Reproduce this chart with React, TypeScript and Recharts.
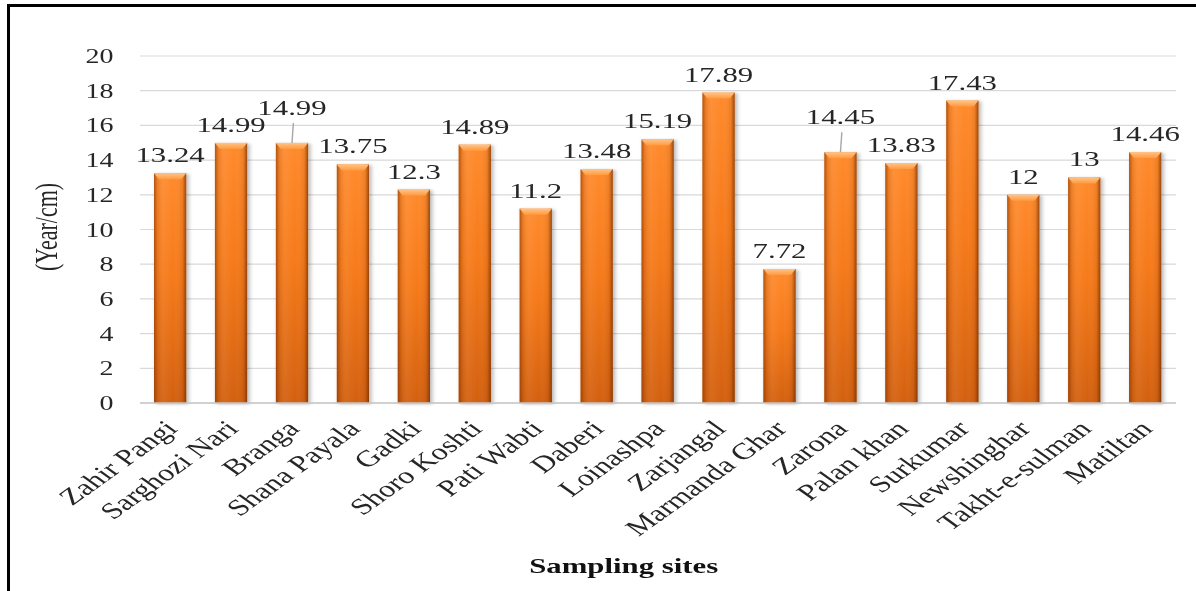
import React from 'react';
import { BarChart, Bar, XAxis, YAxis, CartesianGrid, LabelList, Label } from 'recharts';

// ─── Data ─────────────────────────────────────────────────────────────────────
const SITES = [
  'Zahir Pangi', 'Sarghozi Nari', 'Branga', 'Shana Payala', 'Gadki', 'Shoro Koshti',
  'Pati Wabti', 'Daberi', 'Loinashpa', 'Zarjangal', 'Marmanda Ghar', 'Zarona',
  'Palan khan', 'Surkumar', 'Newshinghar', 'Takht-e-sulman', 'Matiltan',
];
const VALUES = [
  13.24, 14.99, 14.99, 13.75, 12.3, 14.89, 11.2, 13.48, 15.19, 17.89, 7.72, 14.45,
  13.83, 17.43, 12, 13, 14.46,
];
const Y_TICKS = [0, 2, 4, 6, 8, 10, 12, 14, 16, 18, 20];

// sites whose value label sits higher, tied to the bar with a leader line
const RAISED_LABELS = ['Branga', 'Zarona'];

const data = SITES.map((site, i) => ({ site, value: VALUES[i] }));

// ─── Layout ───────────────────────────────────────────────────────────────────
// the chart is drawn narrow and widened with scaleX, so text keeps its wide look
const STRETCH = 1.4;
const PAGE_W = 1196;
const PAGE_H = 591;
const CHART_W = Math.round(PAGE_W / STRETCH);
const SERIF = "'Liberation Serif', 'Times New Roman', serif";
const INK = '#262626';

// ─── Bar shape: orange column with darker edges and a bevelled cap ───────────
const OrangeBar = (props: any) => {
  const { x, y, width, height } = props;
  if (!height || height <= 0) return null;
  const cap = Math.min(6, height / 2);
  return (
    <g filter="url(#barShadow)">
      <rect x={x} y={y} width={width} height={height} fill="url(#barBody)" />
      <rect x={x} y={y} width={width} height={height} fill="url(#barEdges)" />
      <polygon
        points={`${x},${y} ${x + width},${y} ${x + width - 3.5},${y + cap} ${x + 3.5},${y + cap}`}
        fill="url(#barCap)"
      />
    </g>
  );
};

// ─── Value label ──────────────────────────────────────────────────────────────
const ValueLabel = (props: any) => {
  const { x, y, width, value, index } = props;
  const cx = x + width / 2;
  const raised = RAISED_LABELS.includes(SITES[index]);
  const baseline = y - 11 - (raised ? 17 : 0);
  return (
    <g>
      {raised && (
        <line x1={cx} y1={y} x2={cx + 1} y2={baseline + 8} stroke="#A6A6A6" strokeWidth={1} />
      )}
      <text x={cx} y={baseline} textAnchor="middle" fontFamily={SERIF} fontSize={22} fill={INK}>
        {value}
      </text>
    </g>
  );
};

// ─── Rotated site name ────────────────────────────────────────────────────────
const SiteTick = (props: any) => {
  const { x, y, payload } = props;
  return (
    <text
      transform={`translate(${x + 6},${y + 27}) rotate(-45)`}
      textAnchor="end"
      fontFamily={SERIF}
      fontSize={23}
      fill={INK}
    >
      {payload.value}
    </text>
  );
};

export default function App() {
  return (
    <div style={{ position: 'fixed', left: 0, top: 0, width: PAGE_W, height: PAGE_H, background: '#fff', overflow: 'hidden' }}>
      {/* frame */}
      <div
        style={{
          position: 'absolute', left: 7, top: 4, width: PAGE_W, height: PAGE_H - 3,
          borderLeft: '3px solid #000', borderTop: '3px solid #000', borderBottom: '1px solid #D9D9D9',
          boxSizing: 'border-box',
        }}
      />
      <div style={{ position: 'absolute', left: 0, top: 0, transform: `scaleX(${STRETCH})`, transformOrigin: 'left top' }}>
        <BarChart
          width={CHART_W}
          height={PAGE_H}
          data={data}
          margin={{ top: 56, right: CHART_W - 840, bottom: 0, left: 40 }}
          barSize={23}
        >
          <defs>
            <linearGradient id="barBody" x1="0" y1="0" x2="0" y2="1">
              <stop offset="0" stopColor="#FF8A2C" />
              <stop offset="0.45" stopColor="#F67A1A" />
              <stop offset="1" stopColor="#D3600F" />
            </linearGradient>
            <linearGradient id="barEdges" x1="0" y1="0" x2="1" y2="0">
              <stop offset="0" stopColor="#7A3000" stopOpacity={0.6} />
              <stop offset="0.1" stopColor="#7A3000" stopOpacity={0.15} />
              <stop offset="0.3" stopColor="#FFFFFF" stopOpacity={0.06} />
              <stop offset="0.6" stopColor="#FFFFFF" stopOpacity={0} />
              <stop offset="0.88" stopColor="#7A3000" stopOpacity={0.12} />
              <stop offset="1" stopColor="#5C2400" stopOpacity={0.65} />
            </linearGradient>
            <linearGradient id="barCap" x1="0" y1="0" x2="0" y2="1">
              <stop offset="0" stopColor="#FFC488" />
              <stop offset="1" stopColor="#FF9A3E" />
            </linearGradient>
            <filter id="barShadow" x="-30%" y="-5%" width="160%" height="110%">
              <feDropShadow dx="1.5" dy="1" stdDeviation="1.4" floodColor="#000" floodOpacity="0.3" />
            </filter>
          </defs>
          <CartesianGrid vertical={false} stroke="#D9D9D9" strokeWidth={1.2} />
          <XAxis
            dataKey="site"
            interval={0}
            height={PAGE_H - 403}
            tick={<SiteTick />}
            tickLine={false}
            tickSize={0}
            tickMargin={0}
            axisLine={{ stroke: '#C8C8C8', strokeWidth: 1.5 }}
          >
            <Label
              content={() => (
                <text x={445.5} y={573} textAnchor="middle" fontFamily={SERIF} fontSize={22} fontWeight="bold" fill="#111">
                  Sampling sites
                </text>
              )}
            />
          </XAxis>
          <YAxis
            domain={[0, 20]}
            ticks={Y_TICKS}
            interval={0}
            width={60}
            axisLine={false}
            tickLine={false}
            tickSize={0}
            tickMargin={19}
            tick={{ fontFamily: SERIF, fontSize: 20, fill: INK }}
          >
            <Label
              content={() => (
                <text
                  transform="translate(33,227) rotate(-90)"
                  textAnchor="middle"
                  dominantBaseline="central"
                  fontFamily={SERIF}
                  fontSize={22}
                  fill={INK}
                >
                  (Year/cm)
                </text>
              )}
            />
          </YAxis>
          <Bar dataKey="value" shape={<OrangeBar />} isAnimationActive={false}>
            <LabelList dataKey="value" content={<ValueLabel />} />
          </Bar>
        </BarChart>
      </div>
    </div>
  );
}
